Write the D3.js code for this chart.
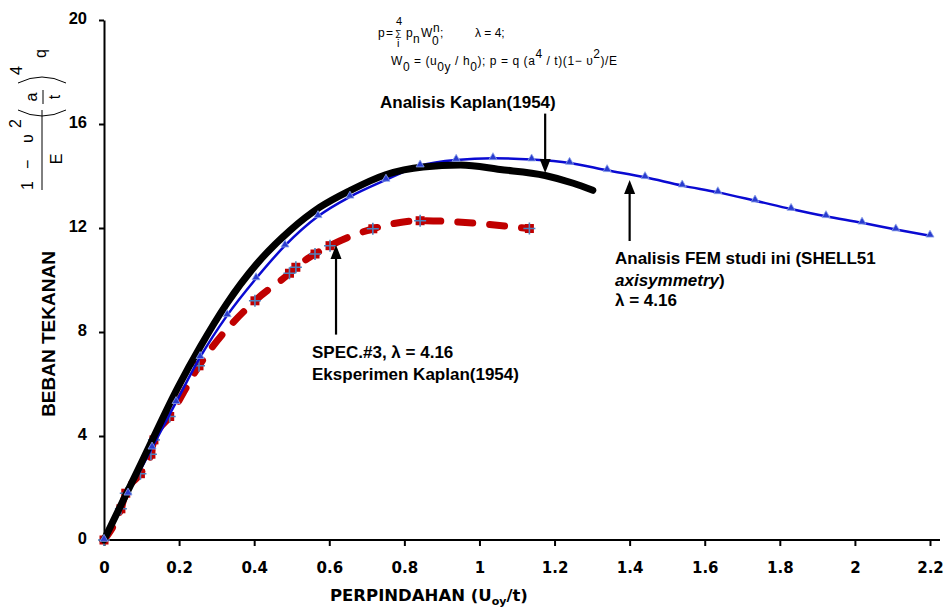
<!DOCTYPE html>
<html>
<head>
<meta charset="utf-8">
<script src="https://cdn.jsdelivr.net/npm/d3@7"></script>
<style>
  body { margin: 0; background: #fff; }
  svg { display: block; }
  .ann { font-family: "Liberation Sans", Arial, sans-serif; font-weight: bold; font-size: 17px; fill: #000; }
  .frm { font-family: "Liberation Sans", Arial, sans-serif; font-size: 12px; fill: #000; }
</style>
</head>
<body>
<div id="chartDiv"></div>
<script>
var width = 944,
    height = 609;

// tick values
var xTicks = [0, 0.2, 0.4, 0.6, 0.8, 1, 1.2, 1.4, 1.6, 1.8, 2, 2.2];
var yTicks = [0, 4, 8, 12, 16, 20];

// Analisis Kaplan(1954) - thick black
var kaplanAnalysis = [[0, 0], [0.1, 2.98], [0.198, 5.9], [0.256, 7.42], [0.327, 9.09], [0.407, 10.62],
    [0.495, 11.9], [0.575, 12.8], [0.655, 13.44], [0.75, 14.05], [0.85, 14.35], [0.95, 14.42],
    [1.055, 14.25], [1.175, 14.02], [1.25, 13.72], [1.302, 13.45]];

// Analisis FEM studi ini - blue with triangles
var femAnalysis = [[0, 0], [0.064, 1.78], [0.128, 3.55], [0.192, 5.3], [0.256, 7.03], [0.328, 8.64],
    [0.405, 10.06], [0.482, 11.32], [0.57, 12.45], [0.655, 13.2], [0.751, 13.85], [0.842, 14.4],
    [0.938, 14.62], [1.036, 14.68], [1.139, 14.63], [1.24, 14.5], [1.34, 14.22], [1.441, 13.95],
    [1.54, 13.63], [1.635, 13.37], [1.734, 13.05], [1.83, 12.73], [1.923, 12.45], [2.019, 12.2],
    [2.109, 11.94], [2.2, 11.7]];

// SPEC.#3 Eksperimen Kaplan(1954) - red dashed
var kaplanExperiment = [[0, 0], [0.045, 1.2], [0.058, 1.8], [0.097, 2.55], [0.125, 3.3], [0.133, 3.85],
    [0.175, 4.75], [0.253, 6.7], [0.402, 9.2], [0.494, 10.26], [0.511, 10.49], [0.562, 11.0],
    [0.602, 11.32], [0.716, 11.97], [0.842, 12.28], [1.133, 11.98]];

var svg = d3.select("#chartDiv")
    .append("svg")
    .attr("width", width)
    .attr("height", height);

var x = d3.scaleLinear().domain([0, 2.2]).range([104, 930]);
var y = d3.scaleLinear().domain([0, 20]).range([540, 20]);

//axes
var xAxis = svg.append("g")
    .attr("transform", "translate(0,540)")
    .call(d3.axisBottom(x).tickValues(xTicks).tickSize(6).tickSizeOuter(0).tickPadding(16)
        .tickFormat(function (d) { return d3.format("~g")(d); }));
xAxis.select(".domain").attr("d", "M104,0H940");
xAxis.selectAll("text")
    .style("font-family", "'DejaVu Sans', sans-serif")
    .style("font-weight", "bold")
    .style("font-size", "15px")
    .attr("fill", "#000");

var yAxis = svg.append("g")
    .attr("transform", "translate(104,0)")
    .call(d3.axisLeft(y).tickValues(yTicks).tickSize(5).tickSizeOuter(0).tickPadding(12));
yAxis.selectAll("text")
    .style("font-family", "'Liberation Sans', Arial, sans-serif")
    .style("font-weight", "bold")
    .style("font-size", "16.5px")
    .attr("dy", "0.2em")
    .attr("fill", "#000");

svg.selectAll(".domain, .tick line")
    .attr("stroke", "#000")
    .attr("stroke-width", 2);

var line = d3.line()
    .x(function (d) { return x(d[0]); })
    .y(function (d) { return y(d[1]); })
    .curve(d3.curveMonotoneX);

// red dashed experiment
svg.append("path")
    .datum(kaplanExperiment)
    .attr("d", line)
    .attr("fill", "none")
    .attr("stroke", "#c00000")
    .attr("stroke-width", 7)
    .attr("stroke-linecap", "round")
    .attr("stroke-dasharray", "15,17");

var expMarks = svg.append("g").selectAll("g")
    .data(kaplanExperiment)
    .enter().append("g")
    .attr("transform", function (d) { return "translate(" + x(d[0]) + "," + y(d[1]) + ")"; });
expMarks.append("rect")
    .attr("x", -4.5).attr("y", -4.5).attr("width", 9).attr("height", 9)
    .attr("fill", "#c00000");
expMarks.append("path")
    .attr("d", "M-6,0H6M0,-6V6")
    .attr("stroke", "#4f81bd")
    .attr("stroke-width", 1.6);

// blue FEM
svg.append("path")
    .datum(femAnalysis)
    .attr("d", line)
    .attr("fill", "none")
    .attr("stroke", "#0a0ad2")
    .attr("stroke-width", 2.5);

// black Kaplan analysis
svg.append("path")
    .datum(kaplanAnalysis)
    .attr("d", line)
    .attr("fill", "none")
    .attr("stroke", "#000")
    .attr("stroke-width", 7)
    .attr("stroke-linecap", "round");

svg.append("g").selectAll("path")
    .data(femAnalysis)
    .enter().append("path")
    .attr("d", d3.symbol().type(d3.symbolTriangle).size(28))
    .attr("transform", function (d) { return "translate(" + x(d[0]) + "," + (y(d[1]) - 1) + ")"; })
    .attr("fill", "#2a3cd0")
    .attr("stroke", "#8fa6ea")
    .attr("stroke-width", 0.8);

// arrows (data coordinates: from, to)
var arrows = [
    [[1.175, 16.4], [1.175, 14.12]],
    [[1.4, 11.5], [1.4, 13.85]],
    [[0.618, 7.9], [0.618, 11.35]]
];
arrows.forEach(function (a) {
    var x0 = x(a[0][0]), y0 = y(a[0][1]), x1 = x(a[1][0]), y1 = y(a[1][1]);
    var dir = y1 > y0 ? 1 : -1;
    svg.append("line")
        .attr("x1", x0).attr("y1", y0).attr("x2", x1).attr("y2", y1 - dir * 10)
        .attr("stroke", "#000").attr("stroke-width", 2.2);
    svg.append("path")
        .attr("d", "M" + x1 + "," + y1 + "L" + (x1 - 5.5) + "," + (y1 - dir * 14) + "L" + (x1 + 5.5) + "," + (y1 - dir * 14) + "Z")
        .attr("fill", "#000");
});

// annotation texts
svg.append("text").attr("class", "ann").attr("x", 380).attr("y", 108).text("Analisis Kaplan(1954)");

var fem = svg.append("g");
fem.append("text").attr("class", "ann").attr("x", 615).attr("y", 264).text("Analisis FEM studi ini (SHELL51");
var t2 = fem.append("text").attr("class", "ann").attr("x", 615).attr("y", 286);
t2.append("tspan").style("font-style", "italic").text("axisymmetry");
t2.append("tspan").text(")");
fem.append("text").attr("class", "ann").attr("x", 615).attr("y", 306).text("\u03bb = 4.16");

svg.append("text").attr("class", "ann").attr("x", 312).attr("y", 358).text("SPEC.#3, \u03bb = 4.16");
svg.append("text").attr("class", "ann").attr("x", 312).attr("y", 380).text("Eksperimen Kaplan(1954)");

// formula at top
var f = svg.append("g").attr("class", "frm");
f.append("text").attr("x", 378).attr("y", 37).text("p");
f.append("text").attr("x", 386).attr("y", 37).text("=");
f.append("text").attr("x", 395).attr("y", 36).style("font-size", "9px").text("\u2211");
f.append("text").attr("x", 396).attr("y", 25).style("font-size", "11px").text("4");
f.append("text").attr("x", 397).attr("y", 47).style("font-size", "11px").text("i");
f.append("text").attr("x", 406).attr("y", 37).text("p");
f.append("text").attr("x", 413).attr("y", 43).text("n");
f.append("text").attr("x", 421).attr("y", 37).text("W");
f.append("text").attr("x", 432).attr("y", 45).text("0");
f.append("text").attr("x", 433).attr("y", 32).text("n");
f.append("text").attr("x", 440).attr("y", 37).text(";");
f.append("text").attr("x", 475).attr("y", 37).text("\u03bb = 4;");

var l2 = f.append("text").attr("x", 391).attr("y", 65)
    .attr("textLength", 226).attr("lengthAdjust", "spacing");
l2.append("tspan").text("W");
l2.append("tspan").attr("dy", 6).text("0");
l2.append("tspan").attr("dy", -6).text(" = (u");
l2.append("tspan").attr("dy", 6).text("0y");
l2.append("tspan").attr("dy", -6).text(" / h");
l2.append("tspan").attr("dy", 6).text("0");
l2.append("tspan").attr("dy", -6).text("); p = q (a");
l2.append("tspan").attr("dy", -7).text("4");
l2.append("tspan").attr("dy", 7).text(" / t)(1\u2212 \u03c5");
l2.append("tspan").attr("dy", -7).text("2");
l2.append("tspan").attr("dy", 7).text(")/E");

// x axis title
var xt = svg.append("text")
    .attr("x", 330).attr("y", 601)
    .style("font-family", "'DejaVu Sans', sans-serif")
    .style("font-weight", "bold")
    .style("font-size", "16.5px");
xt.append("tspan").text("PERPINDAHAN  (U");
xt.append("tspan").attr("dy", 4).style("font-size", "11px").text("oy");
xt.append("tspan").attr("dy", -4).text("/t)");

// y axis title
svg.append("text")
    .attr("transform", "translate(55,334) rotate(-90)")
    .attr("text-anchor", "middle")
    .style("font-family", "'Liberation Sans', Arial, sans-serif")
    .style("font-weight", "bold")
    .style("font-size", "19px")
    .text("BEBAN TEKANAN");

// rotated normalised load expression
var m = svg.append("g")
    .attr("transform", "translate(42,190) rotate(-90)")
    .style("font-family", "'Liberation Sans', Arial, sans-serif")
    .style("font-size", "16px");
m.append("line").attr("x1", 0).attr("y1", 0).attr("x2", 80).attr("y2", 0).attr("stroke", "#000").attr("stroke-width", 1);
m.append("text").attr("x", 0).attr("y", -9).text("1");
m.append("text").attr("x", 21).attr("y", -9).text("\u2212");
m.append("text").attr("x", 47).attr("y", -9).text("\u03c5");
m.append("text").attr("x", 62).attr("y", -21).text("2");
m.append("text").attr("x", 31).attr("y", 20).attr("text-anchor", "middle").text("E");
m.append("path").attr("d", "M80,-24Q68,0 80,24").attr("fill", "none").attr("stroke", "#000").attr("stroke-width", 1);
m.append("path").attr("d", "M107,-24Q119,0 107,24").attr("fill", "none").attr("stroke", "#000").attr("stroke-width", 1);
m.append("text").attr("x", 93).attr("y", -5).attr("text-anchor", "middle").text("a");
m.append("line").attr("x1", 86).attr("y1", 1).attr("x2", 100).attr("y2", 1).attr("stroke", "#000").attr("stroke-width", 1);
m.append("text").attr("x", 93).attr("y", 18).attr("text-anchor", "middle").text("t");
m.append("text").attr("x", 115).attr("y", -20).text("4");
m.append("text").attr("x", 132).attr("y", 4).text("q");
</script>
</body>
</html>
